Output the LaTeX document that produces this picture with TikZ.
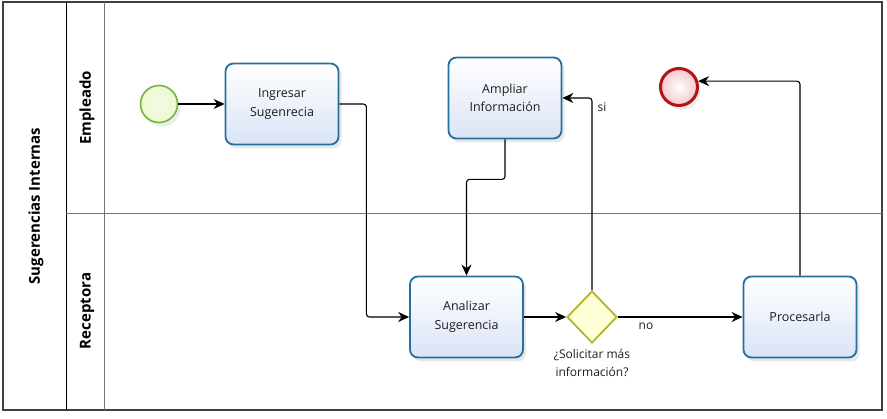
\documentclass[tikz,border=0pt]{standalone}
\usepackage{fontspec}
\setmainfont{Open Sans}
\usetikzlibrary{shapes.geometric,arrows.meta,shadows,calc}
\definecolor{taskline}{RGB}{38,112,158}
\definecolor{taskfill}{RGB}{218,228,246}
\definecolor{startline}{RGB}{120,180,60}
\definecolor{startfill}{RGB}{236,248,210}
\definecolor{endline}{RGB}{180,20,20}
\definecolor{endfill}{RGB}{240,200,205}
\definecolor{gwline}{RGB}{180,180,40}
\definecolor{gwfill}{RGB}{255,255,215}
\definecolor{txt}{RGB}{30,30,30}
\begin{document}
\begin{tikzpicture}[x=1pt,y=-1pt,
  task/.style={draw=taskline,line width=1.8pt,rounded corners=8pt,top color=white,bottom color=taskfill,
    minimum width=113pt,minimum height=81pt,align=center,font=\fontsize{12.5}{18.5}\selectfont,text=txt,
    drop shadow={opacity=0.18,shadow xshift=3pt,shadow yshift=-4pt}},
  startev/.style={circle,draw=startline,line width=1.6pt,inner sep=0pt,minimum size=37pt,
    inner color=startfill!60!white,outer color=startfill,drop shadow={opacity=0.15,shadow xshift=3pt,shadow yshift=-4pt}},
  endev/.style={circle,draw=endline,line width=3pt,inner sep=0pt,minimum size=37pt,
    inner color=white,outer color=endfill,drop shadow={opacity=0.15,shadow xshift=3pt,shadow yshift=-4pt}},
  gw/.style={diamond,draw=gwline,line width=1.8pt,fill=gwfill,inner sep=0pt,minimum width=50pt,minimum height=52pt},
  flow/.style={draw=black,line width=1.1pt,rounded corners=3pt,-{Stealth[length=11pt,width=10pt]}},
  lane/.style={font=\bfseries\fontsize{15}{18}\selectfont,text=black,rotate=90},
  lbl/.style={font=\fontsize{12}{18}\selectfont,text=txt}]
\useasboundingbox (0,0) rectangle (887,419);
\fill[white] (0,0) rectangle (887,419);
% pool frame
\draw[draw=black!75,line width=1.4pt] (3,2) rectangle (882,410);
\draw[black,line width=1pt] (66,2) -- (66,410);
\draw[black!55,line width=1pt] (104,2) -- (104,410);
\draw[black!55,line width=1pt] (66,214) -- (882,214);
\node[lane] (pool) at (36,206) {Sugerencias Internas};
\node[lane] (lemp) at (87,108) {Empleado};
\node[lane] (lrec) at (87,311) {Receptora};
% nodes
\node[startev] (start) at (159,104) {};
\node[task] (ing) at (282,104) {Ingresar\\Sugenrecia};
\node[task] (amp) at (505,98) {Ampliar\\Información};
\node[task] (ana) at (466.5,317) {Analizar\\Sugerencia};
\node[task] (pro) at (800,317) {Procesarla};
\node[gw] (gate) at (592,317) {};
\node[endev] (fin) at (679,87) {};
\node[lbl,align=center,anchor=north] (gwl) at (592,346) {¿Solicitar más\\información?};
% flows
\draw[flow] (start) -- (ing);
\draw[flow] (ing.east) -- ++(27,0) |- (ana.west);
\draw[flow] (amp.south) -- ++(0,40) -| (ana.north);
\draw[flow] (ana) -- (gate);
\draw[flow] (gate.north) |- (amp.east);
\draw[flow] (gate.east) -- (pro.west);
\draw[flow] (pro.north) |- (fin.17);
\node[lbl,anchor=west] (si) at (594,107) {si};
\node[lbl] (no) at (646,326) {no};
\end{tikzpicture}
\end{document}
